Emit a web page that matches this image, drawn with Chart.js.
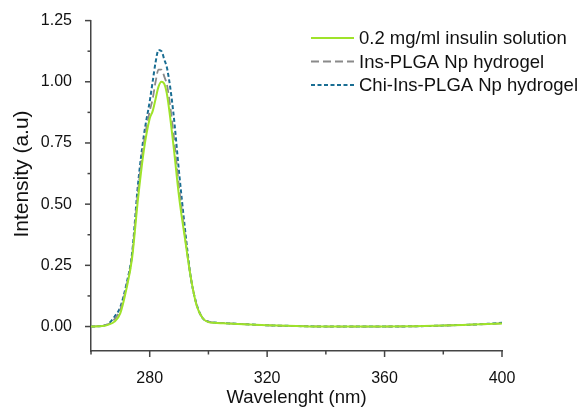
<!DOCTYPE html>
<html>
<head>
<meta charset="utf-8">
<script src="https://cdn.jsdelivr.net/npm/chart.js@4/dist/chart.umd.min.js"></script>
<style>
  body { margin: 0; background: #fff; }
</style>
</head>
<body>
<canvas id="spectrumChart" width="581" height="409"></canvas>
<script>
// wavelengths (nm)
const wavelengths = [260, 264, 266, 268, 270, 272, 274, 276, 278, 280, 281, 282, 283, 284, 285, 286, 288, 290, 292, 294, 296, 298, 300, 302, 305, 310, 320, 330, 340, 350, 360, 370, 380, 390, 395, 400]

const insulinSolution = [0, 0.002, 0.008, 0.02, 0.055, 0.15, 0.28, 0.52, 0.72, 0.85, 0.88, 0.93, 0.98, 1.0, 0.99, 0.94, 0.75, 0.53, 0.36, 0.2, 0.085, 0.035, 0.018, 0.015, 0.013, 0.01, 0.005, 0.002, 0, 0, 0, 0.001, 0.004, 0.008, 0.01, 0.012]
const insPlgaHydrogel = [0, 0.003, 0.01, 0.03, 0.07, 0.16, 0.29, 0.55, 0.75, 0.88, 0.93, 1.0, 1.05, 1.05, 1.02, 0.98, 0.8, 0.57, 0.37, 0.2, 0.088, 0.035, 0.02, 0.016, 0.014, 0.011, 0.005, 0.002, 0, 0, 0, 0.001, 0.004, 0.008, 0.01, 0.013]
const chiInsPlgaHydrogel = [0, 0.003, 0.012, 0.04, 0.08, 0.17, 0.3, 0.58, 0.78, 0.92, 1.0, 1.08, 1.13, 1.125, 1.09, 1.05, 0.88, 0.63, 0.4, 0.2, 0.09, 0.035, 0.02, 0.016, 0.014, 0.011, 0.005, 0.002, 0, 0, 0, 0.001, 0.004, 0.008, 0.011, 0.015]

const seriesLabels = ["0.2 mg/ml insulin solution", "Ins-PLGA Np hydrogel", "Chi-Ins-PLGA Np hydrogel"]

const xTickLabels = [280, 320, 360, 400]
const yTickLabels = ["0.00", "0.25", "0.50", "0.75", "1.00", "1.25"]

const FONT = "'Liberation Sans', Arial, sans-serif"
const AXIS_COLOR = "#444"
const TEXT_COLOR = "#111"

const toPoints = (values) => values.map((v, i) => ({ x: wavelengths[i], y: v }))

// minor + major ticks drawn by hand, Chart.js only draws the labels
const tickMarks = {
  id: "tickMarks",
  afterDraw(chart) {
    const ctx = chart.ctx
    const xs = chart.scales.x
    const ys = chart.scales.y
    const area = chart.chartArea
    ctx.save()
    ctx.strokeStyle = AXIS_COLOR
    ctx.lineWidth = 1.5
    for (let w = 260; w <= 400; w += 20) {
      const px = xs.getPixelForValue(w)
      const len = w % 40 === 0 ? 6 : 3.5
      ctx.beginPath()
      ctx.moveTo(px, area.bottom)
      ctx.lineTo(px, area.bottom + len)
      ctx.stroke()
    }
    for (let k = 0; k <= 10; k++) {
      const py = ys.getPixelForValue(k * 0.125)
      const len = k % 2 === 0 ? 6 : 3.5
      ctx.beginPath()
      ctx.moveTo(area.left, py)
      ctx.lineTo(area.left - len, py)
      ctx.stroke()
    }
    ctx.restore()
  },
}

// y title sits a bit above the middle of the axis in the original
const yTitle = {
  id: "yTitle",
  afterDraw(chart) {
    const ctx = chart.ctx
    ctx.save()
    ctx.translate(22.5, 174)
    ctx.rotate(-Math.PI / 2)
    ctx.font = "21px " + FONT
    ctx.fillStyle = TEXT_COLOR
    ctx.textAlign = "center"
    ctx.textBaseline = "middle"
    ctx.fillText("Intensity (a.u)", 0, 0)
    ctx.restore()
  },
}

const insideLegend = {
  id: "insideLegend",
  afterDraw(chart) {
    const ctx = chart.ctx
    ctx.save()
    ctx.font = "18.5px " + FONT
    ctx.textBaseline = "middle"
    ctx.fillStyle = TEXT_COLOR
    const rows = [38, 61.5, 85]
    chart.data.datasets.forEach((ds, i) => {
      const y = rows[i]
      ctx.strokeStyle = ds.borderColor
      ctx.lineWidth = ds.borderWidth
      ctx.setLineDash(ds.borderDash || [])
      ctx.beginPath()
      ctx.moveTo(311, y)
      ctx.lineTo(354, y)
      ctx.stroke()
      ctx.setLineDash([])
      ctx.fillText(ds.label, 359, y + 1)
    })
    ctx.restore()
  },
}

const ctx = document.getElementById("spectrumChart").getContext("2d")
new Chart(ctx, {
  type: "line",
  data: {
    datasets: [
      {
        label: seriesLabels[0],
        data: toPoints(insulinSolution),
        borderColor: "#9fe32a",
        borderWidth: 2,
        pointRadius: 0,
        cubicInterpolationMode: "monotone",
      },
      {
        label: seriesLabels[1],
        data: toPoints(insPlgaHydrogel),
        borderColor: "#8a8a8a",
        borderWidth: 1.8,
        borderDash: [8, 4],
        pointRadius: 0,
        cubicInterpolationMode: "monotone",
      },
      {
        label: seriesLabels[2],
        data: toPoints(chiInsPlgaHydrogel),
        borderColor: "#1a6e93",
        borderWidth: 2,
        borderDash: [4, 2.5],
        pointRadius: 0,
        cubicInterpolationMode: "monotone",
      },
    ],
  },
  options: {
    responsive: false,
    animation: false,
    layout: { padding: { left: 0, top: 20, right: 79, bottom: 0 } },
    plugins: { legend: { display: false }, tooltip: { enabled: false } },
    scales: {
      x: {
        type: "linear",
        min: 260,
        max: 400,
        grid: { display: false },
        border: { display: true, color: AXIS_COLOR, width: 1.5 },
        afterBuildTicks: (scale) => {
          scale.ticks = xTickLabels.map((v) => ({ value: v }))
        },
        afterFit: (scale) => {
          scale.height = 58
        },
        ticks: {
          padding: 10,
          color: TEXT_COLOR,
          font: { family: FONT, size: 16 },
          maxRotation: 0,
          callback: (v) => String(v),
        },
        title: {
          display: true,
          text: "Wavelenght (nm)",
          color: TEXT_COLOR,
          font: { family: FONT, size: 18.5 },
          padding: { bottom: 0 },
        },
      },
      y: {
        min: -0.1,
        max: 1.25,
        grid: { display: false },
        border: { display: true, color: AXIS_COLOR, width: 1.5 },
        afterBuildTicks: (scale) => {
          scale.ticks = yTickLabels.map((t) => ({ value: parseFloat(t) }))
        },
        afterFit: (scale) => {
          scale.width = 91
        },
        ticks: {
          padding: 11,
          color: TEXT_COLOR,
          font: { family: FONT, size: 16 },
          callback: (v) => Number(v).toFixed(2),
        },
      },
    },
  },
  plugins: [tickMarks, yTitle, insideLegend],
})
</script>
</body>
</html>
